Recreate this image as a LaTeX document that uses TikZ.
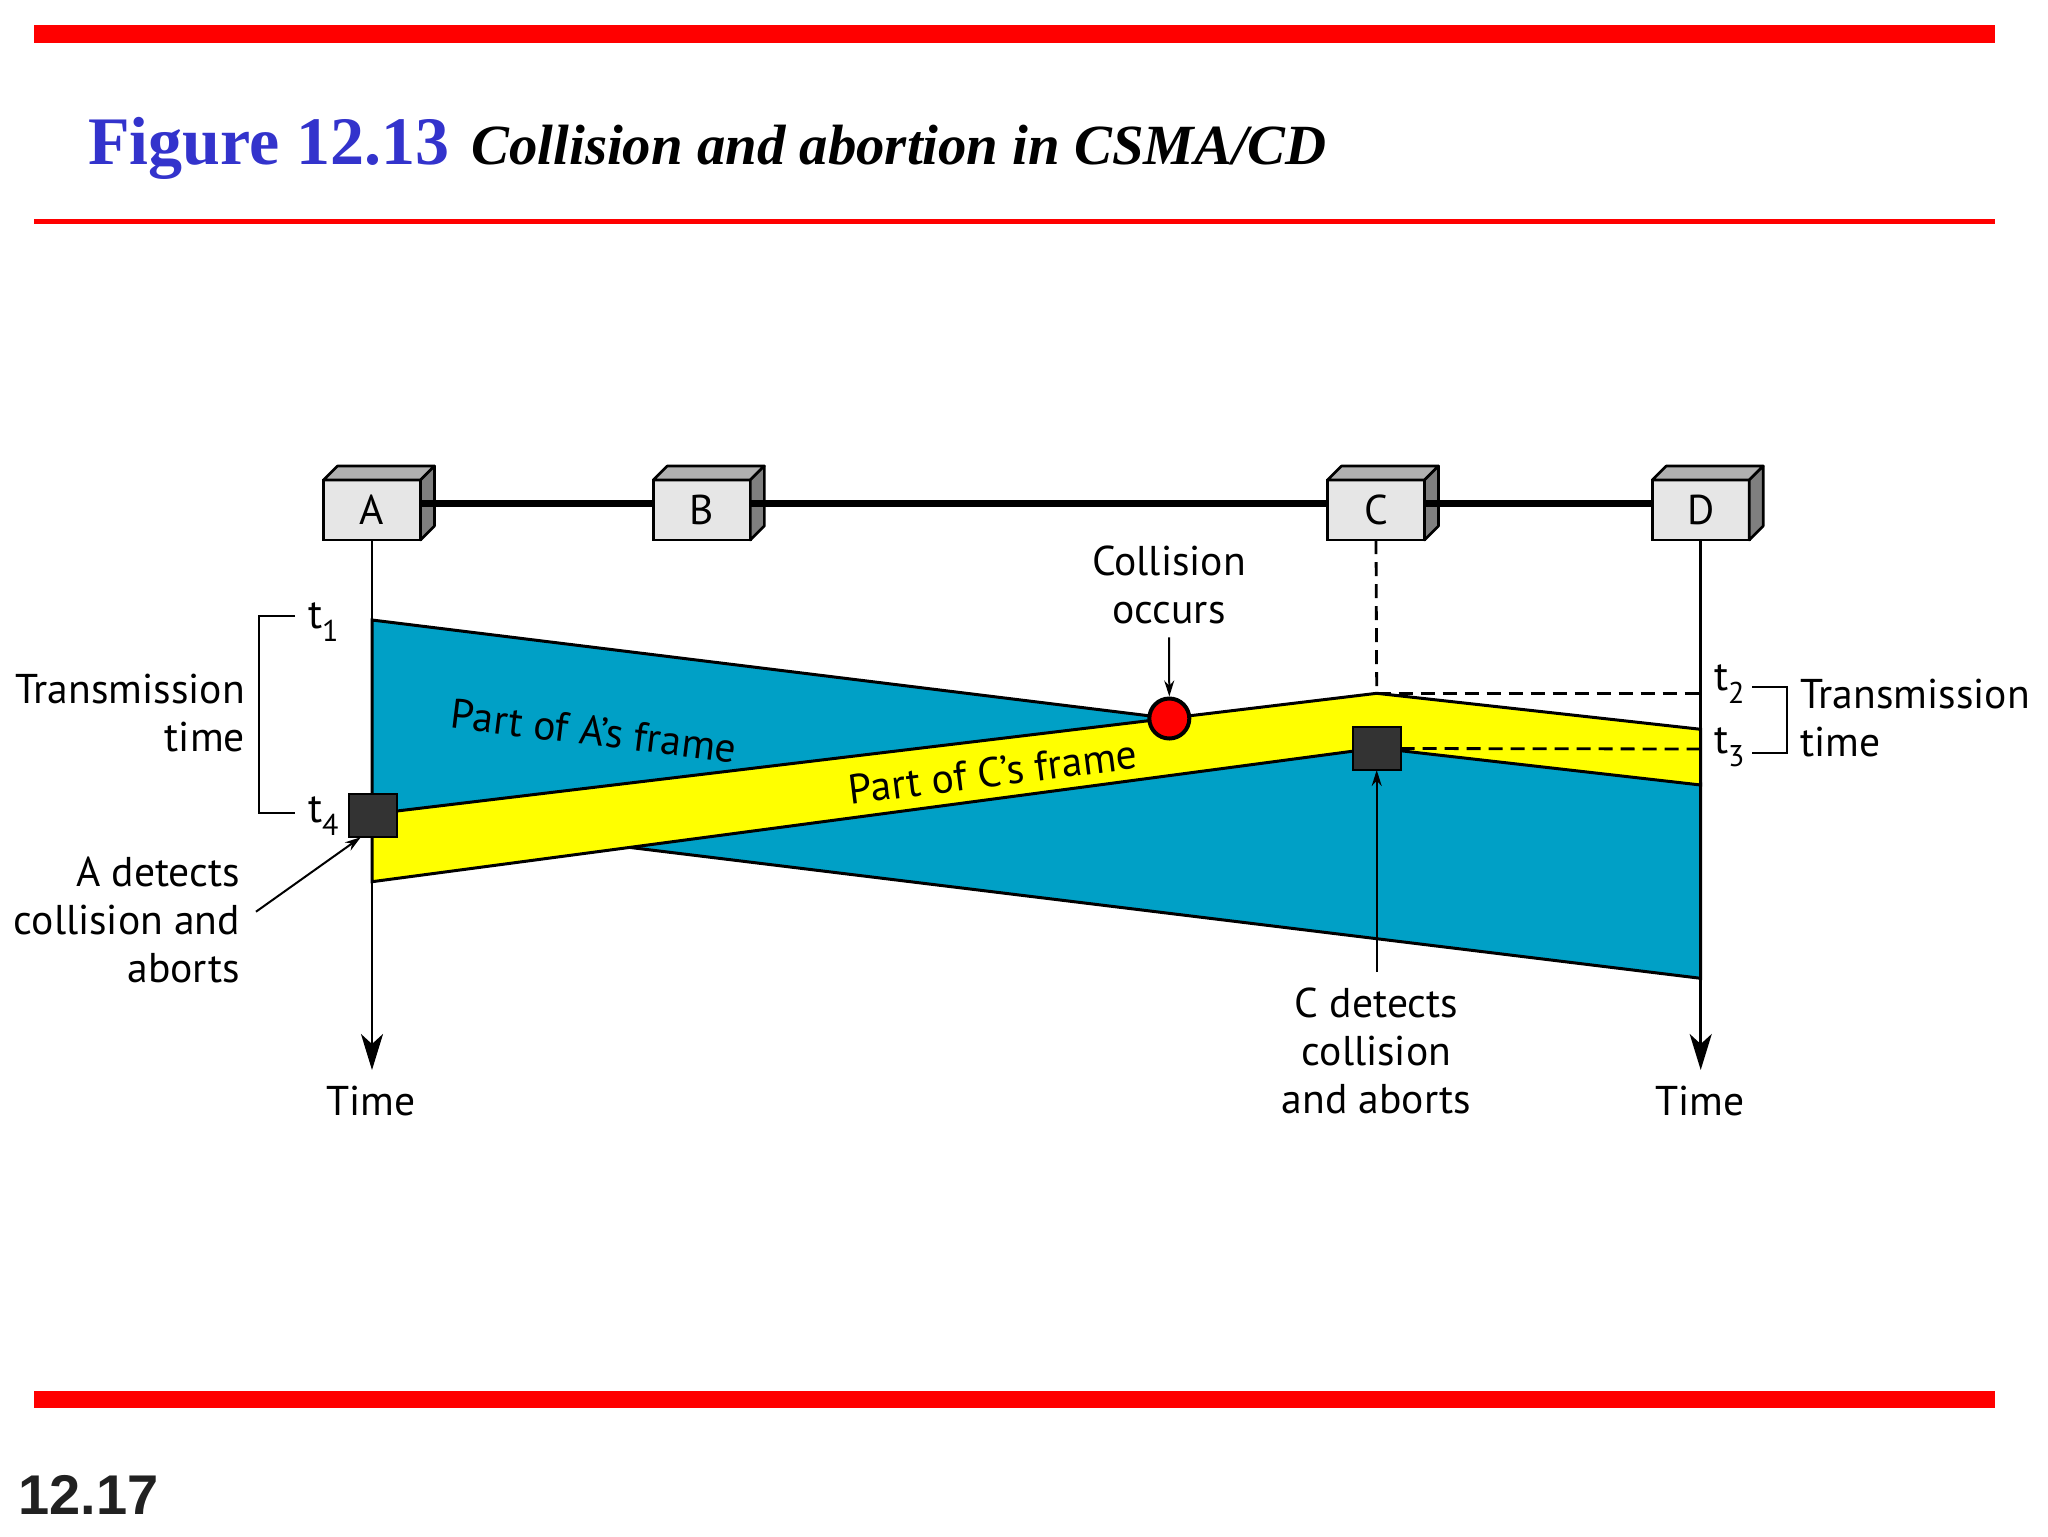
\documentclass[tikz,border=0pt]{standalone}
\usepackage{fontspec}
\setmainfont{PT Sans}
\newfontfamily\titlefont{Liberation Serif}
\newfontfamily\numfont{Liberation Sans}
\usetikzlibrary{arrows.meta,calc}
\definecolor{framblue}{HTML}{00A0C6}
\definecolor{framyellow}{HTML}{FFFF00}
\definecolor{titleblue}{HTML}{3333CC}
\definecolor{slidered}{HTML}{FF0000}
\definecolor{frontgray}{HTML}{E6E6E6}
\definecolor{topgray}{HTML}{B0B0B0}
\definecolor{sidegray}{HTML}{7F7F7F}
\definecolor{sqgray}{HTML}{333333}
\newcommand{\mlines}[2]{\begin{tabular}[t]{@{}#1@{}}#2\end{tabular}}
\newcommand{\tsub}[2]{#1\raisebox{-6.5pt}{\fontsize{15pt}{15pt}\selectfont #2}}
\begin{document}
\begin{tikzpicture}[x=0.5pt,y=-0.5pt,
  lbl/.style={inner sep=0pt, outer sep=0pt, font=\fontsize{20.8pt}{24pt}\selectfont},
  host/.style={draw=black, line width=1.3pt, fill=frontgray, minimum width=48.5pt,
    minimum height=30pt, inner sep=0pt, outer sep=0pt, font=\fontsize{20.8pt}{24pt}\selectfont},
  face/.style={draw=black, line width=1.3pt, line join=round},
  frameout/.style={draw=black, line width=1.5pt, line join=miter},
  dashline/.style={line width=1.4pt, dash pattern=on 7pt off 4pt},
  timeline/.style={line width=1.3pt, -{Stealth[length=18pt,width=11pt,inset=5pt]}},
  arrowthin/.style={line width=1pt, -{Stealth[length=8pt,width=5pt]}},
  detsq/.style={draw=black, line width=1.2pt, fill=sqgray, minimum width=24pt,
    minimum height=21.5pt, inner sep=0pt, outer sep=0pt},
  bracket/.style={line width=1pt}
]
\useasboundingbox (0,0) rectangle (2048,1536);

% slide rules
\fill[slidered] (34,25) rectangle (1995,42.7);
\fill[slidered] (34,218.5) rectangle (1995,223.5);
\fill[slidered] (34,1390.7) rectangle (1995,1407.7);

% title
\node[anchor=base west, inner sep=0pt, text=titleblue,
  font=\titlefont\bfseries\fontsize{34pt}{36pt}\selectfont] (fig) at (88,164) {Figure 12.13};
\node[anchor=base west, inner sep=0pt,
  font=\titlefont\bfseries\itshape\fontsize{28.4pt}{32pt}\selectfont] (cap) at (471,164)
  {Collision and abortion in CSMA/CD};

% A's frame (blue)
\coordinate (At1) at (372,620);
\coordinate (Dbt) at (1700.7,783.8);
\coordinate (Dbb) at (1700.7,978.3);
\coordinate (At4) at (372,815.9);
\filldraw[fill=framblue, frameout] (At1) -- (Dbt) -- (Dbb) -- (At4) -- cycle;

% C's frame (yellow)
\coordinate (Ayt) at (372,814);
\coordinate (Ct2) at (1376.7,693.3);
\coordinate (Dyt) at (1700.7,729.3);
\coordinate (Dyb) at (1700.7,785);
\coordinate (Cyb) at (1376.7,748);
\coordinate (Ayb) at (372,881.7);
\filldraw[fill=framyellow, frameout] (Ayt) -- (Ct2) -- (Dyt) -- (Dyb) -- (Cyb) -- (Ayb) -- cycle;

% stations
\node[host] (A) at (372,510) {A};
\node[host] (B) at (701.8,510) {B};
\node[host] (C) at (1376,510) {C};
\node[host] (D) at (1700.7,510) {D};
\foreach \s in {A,B,C,D}{
  \filldraw[fill=topgray, face] (\s.north west) -- ++(14,-14) -- ++(97,0) -- (\s.north east) -- cycle;
  \filldraw[fill=sidegray, face] (\s.north east) -- ++(14,-14) -- ++(0,60) -- (\s.south east) -- cycle;
}
\coordinate (busy) at (0,503);
\draw[line width=3.5pt] (A.east |- busy) -- (B.west |- busy);
\draw[line width=3.5pt] (B.east |- busy) -- (C.west |- busy);
\draw[line width=3.5pt] (C.east |- busy) -- (D.west |- busy);

% time lines
\coordinate (Aend) at (372,1070);
\coordinate (Dend) at (1700.7,1070);
\draw[timeline] (A.south) -- (Aend);
\draw[timeline] (D.south) -- (Dend);

% detection squares and collision point
\node[detsq] (sqA) at (372.8,815.7) {};
\node[detsq] (sqC) at (1376.7,748.5) {};
\node[circle, draw=black, line width=2pt, fill=red, minimum size=20pt, inner sep=0pt] (circ) at (1169.3,718.5) {};

% dashed guides
\coordinate (Dt2) at (1700.7,693.3);
\coordinate (Dt3) at (1700.7,749);
\draw[dashline] (C.south) -- (Ct2);
\draw[dashline] (Ct2) -- (Dt2);
\draw[dashline] (sqC.east) -- (Dt3);

% labels
\node[lbl, anchor=base] (timeA) at (371,1115) {Time};
\node[lbl, anchor=base] (timeD) at (1700,1115) {Time};

\node[lbl, anchor=base] (collab) at (1169,575) {\mlines{c}{Collision\\occurs}};
\draw[arrowthin] (collab.south) -- (circ.north);

\node[lbl, anchor=base east] (ttl) at (245,703.3) {\mlines{r}{Transmission\\time}};
\node[lbl, anchor=base west] (ttr) at (1800,708.3) {\mlines{l}{Transmission\\time}};

\node[lbl, anchor=base west] (t1) at (308,628.3) {\tsub{t}{1}};
\node[lbl, anchor=base west] (t4) at (308,822.7) {\tsub{t}{4}};
\node[lbl, anchor=base west] (t2) at (1714,690) {\tsub{t}{2}};
\node[lbl, anchor=base west] (t3) at (1714,753) {\tsub{t}{3}};

\draw[bracket] (295,616) -- (259.3,616) -- (259.3,813.3) -- (295,813.3);
\draw[bracket] (1752,687.3) -- (1786.6,687.3) -- (1786.6,752.7) -- (1752,752.7);

\node[lbl, anchor=base east] (adet) at (240,886) {\mlines{r}{A detects\\collision and\\aborts}};
\coordinate (adetarr) at (256,911.7);
\draw[arrowthin] (adetarr) -- ($(sqA.south)!0.5!(sqA.south west)$);

\node[lbl, anchor=base] (cdet) at (1376.5,1017.3) {\mlines{c}{C detects\\collision\\and aborts}};
\coordinate (cdetarr) at (1376.7,972);
\draw[arrowthin] (cdetarr) -- (sqC.south);

\node[lbl, rotate=-7] (partA) at (594,731) {Part of A’s frame};
\node[lbl, rotate=7.2] (partC) at (993,772) {Part of C’s frame};

% slide number
\node[anchor=base west, inner sep=0pt, text=black!87,
  font=\numfont\bfseries\fontsize{28pt}{30pt}\selectfont] (pnum) at (18,1514) {12.17};
\end{tikzpicture}
\end{document}
